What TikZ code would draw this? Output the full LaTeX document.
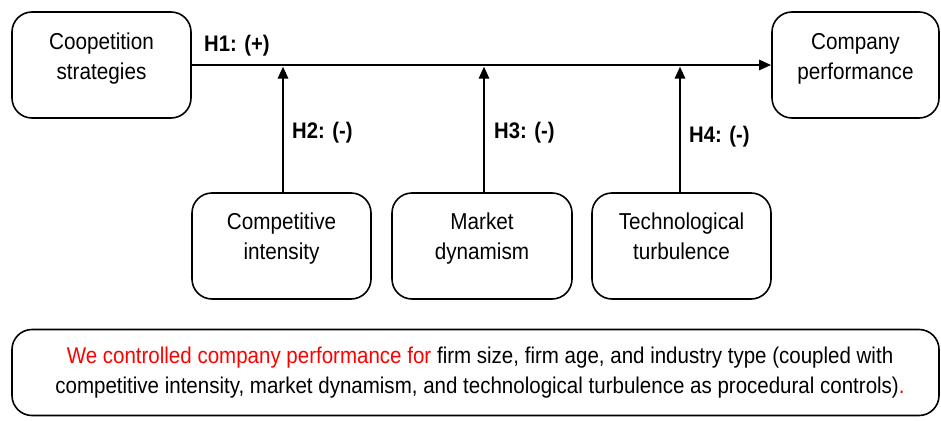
\documentclass[tikz,border=0pt]{standalone}
\usepackage{fontspec}
\setmainfont[FakeStretch=0.9]{Liberation Sans}
\usetikzlibrary{arrows.meta,calc}
\begin{document}
\begin{tikzpicture}[x=1pt,y=-1pt,
  box/.style={draw=black,line width=1.6pt,rounded corners=20pt,inner sep=0pt},
  txt/.style={font=\fontsize{23}{30}\selectfont,align=center,inner sep=0pt},
  hyp/.style={font=\fontsize{22.5}{24}\selectfont\bfseries,inner sep=0pt,anchor=west},
  arr/.style={line width=2.6pt,-{Triangle[length=12pt,width=10pt]}}]
\useasboundingbox (0,0) rectangle (941,420);

% construct boxes
\node[box,minimum width=179pt,minimum height=106pt] (cs) at (101.5,65) {};
\node[box,minimum width=167pt,minimum height=106pt] (cp) at (855.5,65) {};
\node[box,minimum width=179pt,minimum height=106pt] (ci) at (281.5,246) {};
\node[box,minimum width=180pt,minimum height=106pt] (md) at (482,246) {};
\node[box,minimum width=179pt,minimum height=106pt] (tt) at (681.5,246) {};

% box labels (base anchor sits on the second line)
\node[txt,anchor=base] (cs-t) at ($(cs.north)+(0,68)$) {Coopetition\\strategies};
\node[txt,anchor=base] (cp-t) at ($(cp.north)+(0,68)$) {Company\\performance};
\node[txt,anchor=base] (ci-t) at ($(ci.north)+(0,67)$) {Competitive\\intensity};
\node[txt,anchor=base] (md-t) at ($(md.north)+(0,67)$) {Market\\dynamism};
\node[txt,anchor=base] (tt-t) at ($(tt.north)+(0,67)$) {Technological\\turbulence};

% main effect and moderators
\draw[arr] (cs.east) -- (cp.west);
\draw[arr,shorten >=1.5pt] (283,193) coordinate (ci-top) -- (ci-top |- cs.east);
\draw[arr,shorten >=1.5pt] (484,193) coordinate (md-top) -- (md-top |- cs.east);
\draw[arr,shorten >=1.5pt] (680,193) coordinate (tt-top) -- (tt-top |- cs.east);

% hypotheses
\node[hyp] (h1) at (204,46) {H1: (+)};
\node[hyp] (h2) at (292,133) {H2: (-)};
\node[hyp] (h3) at (494,133) {H3: (-)};
\node[hyp] (h4) at (689,137) {H4: (-)};

% controls
\node[box,minimum width=927pt,minimum height=86pt] (ctrl) at (475.5,372.5) {};
\node[txt,font=\fontsize{22.8}{29.5}\selectfont] (ctrl-t) at ($(ctrl.center)+(4.5,0)$)
  {\textcolor{red}{We controlled company performance for} firm size, firm age, and industry type (coupled with\\
   competitive intensity, market dynamism, and technological turbulence as procedural controls)\textcolor{red}{.}};
\end{tikzpicture}
\end{document}
